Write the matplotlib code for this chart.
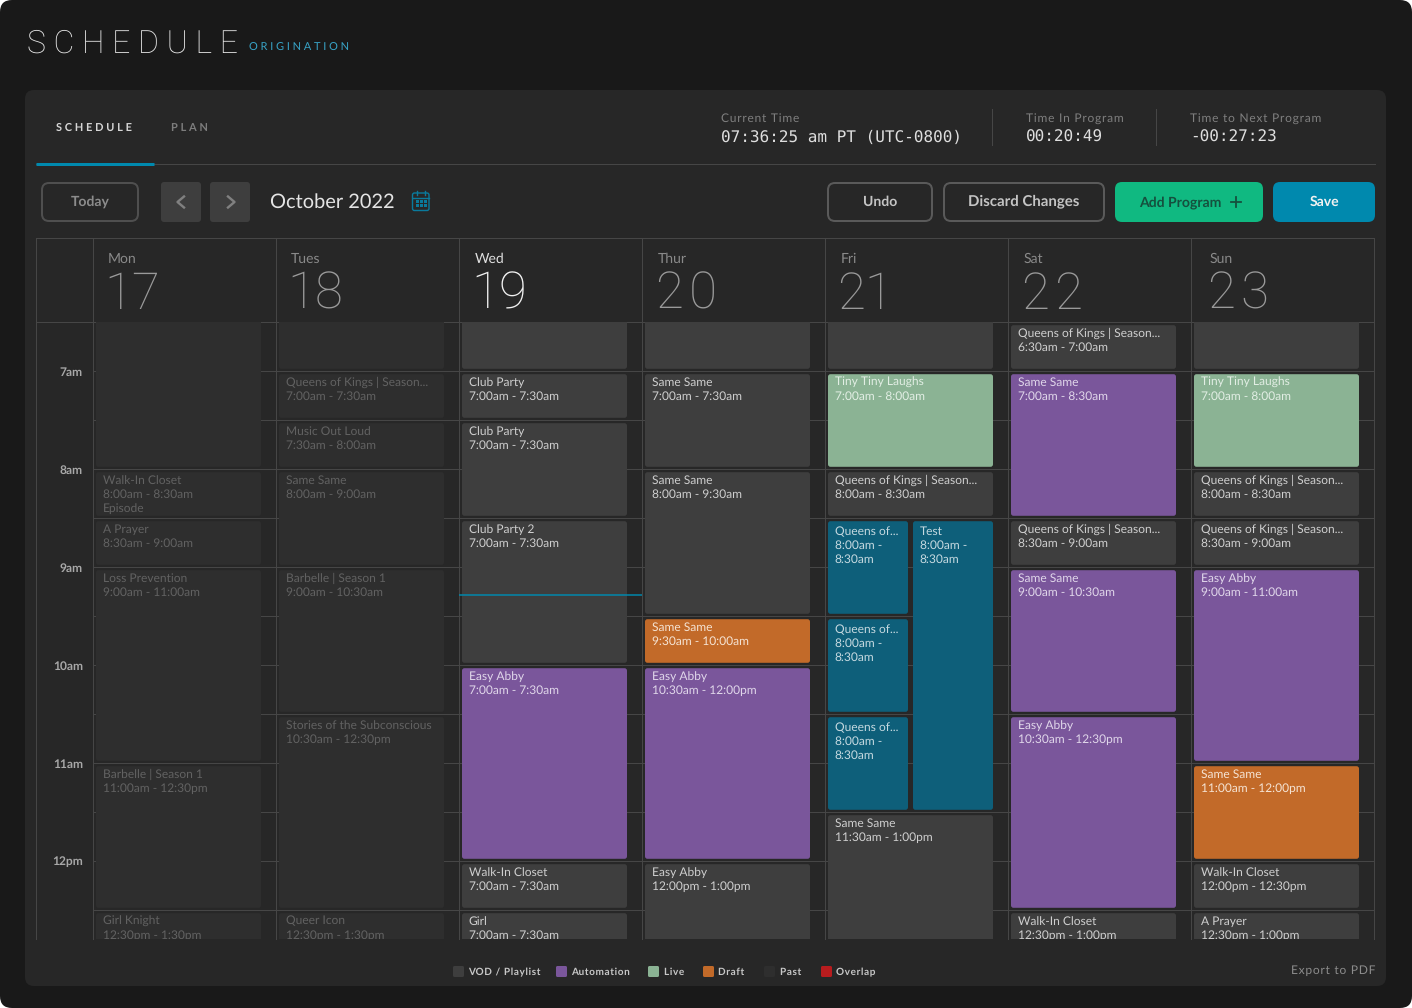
from matplotlib.patches import FancyBboxPatch
import matplotlib.pyplot as plt

plt.rcParams["font.family"] = ["Lato", "DejaVu Sans"]
plt.rcParams["text.hinting"] = "no_hinting"
plt.rcParams["text.hinting_factor"] = 1

# ---- data: (title, time label, start hour, end hour, kind)
mon_events = [
    ("", "", 6, 8, "past"),
    ("Walk-In Closet", "8:00am - 8:30am\nEpisode", 8, 8.5, "past"),
    ("A Prayer", "8:30am - 9:00am", 8.5, 9, "past"),
    ("Loss Prevention", "9:00am - 11:00am", 9, 11, "past"),
    ("Barbelle | Season 1", "11:00am - 12:30pm", 11, 12.5, "past"),
    ("Girl Knight", "12:30pm - 1:30pm", 12.5, 13.5, "past"),
]
tue_events = [
    ("", "", 6, 7, "past"),
    ("Queens of Kings | Season...", "7:00am - 7:30am", 7, 7.5, "past"),
    ("Music Out Loud", "7:30am - 8:00am", 7.5, 8, "past"),
    ("Same Same", "8:00am - 9:00am", 8, 9, "past"),
    ("Barbelle | Season 1", "9:00am - 10:30am", 9, 10.5, "past"),
    ("Stories of the Subconscious", "10:30am - 12:30pm", 10.5, 12.5, "past"),
    ("Queer Icon", "12:30pm - 1:30pm", 12.5, 13.5, "past"),
]
wed_events = [
    ("", "", 6, 7, "vod"),
    ("Club Party", "7:00am - 7:30am", 7, 7.5, "vod"),
    ("Club Party", "7:00am - 7:30am", 7.5, 8.5, "vod"),
    ("Club Party 2", "7:00am - 7:30am", 8.5, 10, "vod"),
    ("Easy Abby", "7:00am - 7:30am", 10, 12, "auto"),
    ("Walk-In Closet", "7:00am - 7:30am", 12, 12.5, "vod"),
    ("Girl", "7:00am - 7:30am", 12.5, 13.5, "vod"),
]
thu_events = [
    ("", "", 6, 7, "vod"),
    ("Same Same", "7:00am - 7:30am", 7, 8, "vod"),
    ("Same Same", "8:00am - 9:30am", 8, 9.5, "vod"),
    ("Same Same", "9:30am - 10:00am", 9.5, 10, "draft"),
    ("Easy Abby", "10:30am - 12:00pm", 10, 12, "auto"),
    ("Easy Abby", "12:00pm - 1:00pm", 12, 13.5, "vod"),
]
fri_events = [
    ("", "", 6, 7, "vod"),
    ("Tiny Tiny Laughs", "7:00am - 8:00am", 7, 8, "live"),
    ("Queens of Kings | Season...", "8:00am - 8:30am", 8, 8.5, "vod"),
    ("Same Same", "11:30am - 1:00pm", 11.5, 13.5, "vod"),
]
fri_left_events = [
    ("Queens of...", "8:00am -\n8:30am", 8.5, 9.5, "teal"),
    ("Queens of...", "8:00am -\n8:30am", 9.5, 10.5, "teal"),
    ("Queens of...", "8:00am -\n8:30am", 10.5, 11.5, "teal"),
]
fri_right_events = [
    ("Test", "8:00am -\n8:30am", 8.5, 11.5, "teal"),
]
sat_events = [
    ("Queens of Kings | Season...", "6:30am - 7:00am", 6.5, 7, "vod"),
    ("Same Same", "7:00am - 8:30am", 7, 8.5, "auto"),
    ("Queens of Kings | Season...", "8:30am - 9:00am", 8.5, 9, "vod"),
    ("Same Same", "9:00am - 10:30am", 9, 10.5, "auto"),
    ("Easy Abby", "10:30am - 12:30pm", 10.5, 12.5, "auto"),
    ("Walk-In Closet", "12:30pm - 1:00pm", 12.5, 13.5, "vod"),
]
sun_events = [
    ("", "", 6, 7, "vod"),
    ("Tiny Tiny Laughs", "7:00am - 8:00am", 7, 8, "live"),
    ("Queens of Kings | Season...", "8:00am - 8:30am", 8, 8.5, "vod"),
    ("Queens of Kings | Season...", "8:30am - 9:00am", 8.5, 9, "vod"),
    ("Easy Abby", "9:00am - 11:00am", 9, 11, "auto"),
    ("Same Same", "11:00am - 12:00pm", 11, 12, "draft"),
    ("Walk-In Closet", "12:00pm - 12:30pm", 12, 12.5, "vod"),
    ("A Prayer", "12:30pm - 1:00pm", 12.5, 13.5, "vod"),
]
day_names = ["Mon", "Tues", "Wed", "Thur", "Fri", "Sat", "Sun"]
day_dates = ["17", "18", "19", "20", "21", "22", "23"]
hour_ticks = [7, 8, 9, 10, 11, 12]
hour_labels = ["7am", "8am", "9am", "10am", "11am", "12pm"]
half_hour_ticks = [7.5, 8.5, 9.5, 10.5, 11.5, 12.5]
now_hour = 9.29
legend_names = ["VOD / Playlist", "Automation", "Live", "Draft", "Past", "Overlap"]
legend_kinds = ["vod", "auto", "live", "draft", "past", "overlap"]

# ---- styles
W, H = 1412, 1008
PAGE = "#191919"
PANEL = "#272727"
LINE = "#464646"
FILLS = {"vod": "#3e3e3e", "past": "#2e2e2e", "auto": "#7a569b", "live": "#8bb394",
         "draft": "#c26a29", "teal": "#0e5f7a", "overlap": "#b81c1e"}
TEXTS = {"vod": "#cfcfcf", "past": "#626262", "auto": "#e0d6ea", "live": "#e2eee4",
         "draft": "#f5e3d3", "teal": "#c5d9e0"}
BLUE = "#0089ae"
GREEN = "#10b981"
COL_W = 183
COL_X0 = 93
GRID_TOP, HEAD_BOT, GRID_BOT, GRID_L, GRID_R = 238, 322, 939, 36, 1374
HOUR_PX = 98
PX = 0.72  # points per pixel at dpi 100
HAIR = "\u200a"
THIN = "\u2009"


def rbox(ax, x0, y0, x1, y1, r, fc, ec="none", lw=0, z=2):
    ax.add_patch(FancyBboxPatch((x0, y0), x1 - x0, y1 - y0,
                                boxstyle=f"round,pad=0,rounding_size={r}",
                                fc=fc, ec=ec, lw=lw, zorder=z))


def tracked(s, sep=HAIR):
    return sep.join(s)


fig = plt.figure(figsize=(W / 100, H / 100), dpi=100, facecolor="white")

# ---- chrome layer, in pixels
bg = fig.add_axes([0, 0, 1, 1])
bg.set_xlim(0, W)
bg.set_ylim(H, 0)
bg.axis("off")

rbox(bg, 0, 0, W, H, 12, PAGE, z=0)
rbox(bg, 25, 90, 1386, 986, 9, PANEL, z=1)

bg.text(27, 44, "S C H E D U L E", color="#e8e8e8", fontsize=32.3 * PX, family="Roboto",
        fontweight="light", va="center")
bg.text(249, 47.5, tracked("ORIGINATION", THIN + HAIR + HAIR), color="#38a3c6", fontsize=11.3 * PX, va="center")

TAB_SEP = THIN + HAIR + HAIR
bg.text(56, 127.5, tracked("SCHEDULE", TAB_SEP), color="#d6d6d6", fontsize=10.8 * PX, fontweight="bold", va="center")
bg.text(171, 127.5, tracked("PLAN", TAB_SEP), color="#7d7d7d", fontsize=10.8 * PX, fontweight="bold", va="center")
bg.plot([36, 1375], [164, 164], color=LINE, lw=1 * PX, zorder=2)
bg.plot([36, 153.5], [163.5, 163.5], color=BLUE, lw=3 * PX, solid_capstyle="butt", zorder=3)

bg.text(721, 118.5, tracked("Current Time"), color="#7f7f7f", fontsize=12 * PX, va="center")
bg.text(721, 137, "07:36:25 am PT (UTC-0800)", color="#dedede", fontsize=16 * PX,
        family="DejaVu Sans Mono", va="center")
bg.text(1026, 118.5, tracked("Time In Program"), color="#7f7f7f", fontsize=12 * PX, va="center")
bg.text(1026, 137, "00:20:49", color="#dedede", fontsize=16 * PX, family="DejaVu Sans Mono", va="center")
bg.text(1190, 118.5, tracked("Time to Next Program"), color="#7f7f7f", fontsize=12 * PX, va="center")
bg.text(1190, 137, "-00:27:23", color="#dedede", fontsize=16 * PX, family="DejaVu Sans Mono", va="center")
for sep_x in [992, 1156]:
    bg.plot([sep_x, sep_x], [109, 145], color=LINE, lw=1 * PX)

# toolbar buttons
rbox(bg, 42, 183, 138, 221, 7, "none", ec="#4f4f4f", lw=2 * PX)
bg.text(90, 202, "Today", color="#8c8c8c", fontsize=13.5 * PX, fontweight="bold", ha="center", va="center")
rbox(bg, 161, 182, 201, 222, 3, "#3e3e3e")
rbox(bg, 210, 182, 250, 222, 3, "#3e3e3e")
bg.plot([184, 177.5, 184], [196.5, 202, 207.5], color="#808080", lw=2.4 * PX)
bg.plot([228, 234.5, 228], [196.5, 202, 207.5], color="#808080", lw=2.4 * PX)
bg.text(270, 202, "October 2022", color="#e4e4e4", fontsize=20 * PX, va="center")

# calendar icon
ICON = "#0a7a9c"
rbox(bg, 412.5, 193, 429, 210.5, 2, "none", ec=ICON, lw=1.4 * PX)
bg.plot([412.5, 429], [197.5, 197.5], color=ICON, lw=1.4 * PX)
for peg_x in [417, 425]:
    bg.plot([peg_x, peg_x], [191, 195], color=ICON, lw=1.4 * PX)
for cx in [415.5, 419.5, 423.5]:
    for cy in [200, 204]:
        bg.fill_between([cx, cx + 3.2], cy, cy + 3.2, color=ICON, lw=0)

rbox(bg, 828, 183, 932, 221, 7, "none", ec="#5a5a5a", lw=2 * PX)
bg.text(880, 201.5, "Undo", color="#c4c4c4", fontsize=14 * PX, fontweight="bold", ha="center", va="center")
rbox(bg, 944, 183, 1104, 221, 7, "none", ec="#5a5a5a", lw=2 * PX)
bg.text(1024, 201.5, "Discard Changes", color="#c4c4c4", fontsize=14.6 * PX, fontweight="bold", ha="center", va="center")
rbox(bg, 1115, 182, 1263, 222, 7, GREEN)
bg.text(1180, 202.5, "Add Program", color="#15503e", fontsize=14 * PX, fontweight="bold", ha="center", va="center")
bg.plot([1231, 1241], [202, 202], color="#15503e", lw=1.8 * PX)
bg.plot([1236, 1236], [197, 207], color="#15503e", lw=1.8 * PX)
rbox(bg, 1273, 182, 1375, 222, 7, BLUE)
bg.text(1324, 201.5, "Save", color="#f2f2f2", fontsize=14 * PX, fontweight="bold", ha="center", va="center")

# calendar frame and day headers
bg.plot([GRID_L, GRID_R], [GRID_TOP, GRID_TOP], color=LINE, lw=1 * PX)
bg.plot([GRID_L, GRID_R], [HEAD_BOT, HEAD_BOT], color=LINE, lw=1 * PX)
bg.plot([GRID_L, GRID_L], [GRID_TOP, GRID_BOT], color=LINE, lw=1 * PX)
head_x = [108, 291, 475, 658, 841, 1024, 1210]
for i in range(8):
    col_x = COL_X0 + i * COL_W
    bg.plot([col_x, col_x], [GRID_TOP, GRID_BOT], color=LINE, lw=1 * PX)
for i, (name, date) in enumerate(zip(day_names, day_dates)):
    is_today = name == "Wed"
    bg.text(head_x[i], 259, name, color="#e0e0e0" if is_today else "#8a8a8a", fontsize=13.5 * PX, va="center")
    # the numerals without a 1 run a little wider in the reference
    date_text = date if "1" in date else tracked(date)
    date_x = head_x[i] - (4 if "1" in date else 2)
    bg.text(date_x, 295, date_text, color="#f0f0f0" if is_today else "#9a9a9a", fontsize=51 * PX,
            family="Roboto", fontweight="light", va="center")

# legend and footer
legend_x = [453, 556, 648, 703, 764, 821]
for lx, name, kind in zip(legend_x, legend_names, legend_kinds):
    rbox(bg, lx, 966, lx + 11, 977, 1.5, FILLS[kind])
    bg.text(lx + 15.5, 972, tracked(name), color="#c8c8c8", fontsize=9.7 * PX, fontweight="bold", va="center")
bg.text(1375, 971, tracked("Export to PDF"), color="#8c8c8c", fontsize=11.6 * PX, ha="right", va="center")

# ---- calendar grid, x in days and y in hours
cal = fig.add_axes([COL_X0 / W, 1 - GRID_BOT / H, 7 * COL_W / W, (GRID_BOT - HEAD_BOT) / H])
cal.patch.set_alpha(0)
cal.set_xlim(0, 7)
top_hour = 7 - (371 - HEAD_BOT) / HOUR_PX
cal.set_ylim(top_hour + (GRID_BOT - HEAD_BOT) / HOUR_PX, top_hour)
for spine in cal.spines.values():
    spine.set_visible(False)
cal.set_xticks([])
cal.set_yticks(hour_ticks, hour_labels)
cal.set_yticks(half_hour_ticks, minor=True)
cal.tick_params(axis="y", which="both", length=0, pad=10 * PX, labelsize=11.8 * PX, labelcolor="#a8a8a8")
for lab in cal.get_yticklabels():
    lab.set_fontweight("bold")
cal.grid(True, axis="y", which="both", color=LINE, lw=1 * PX)
cal.set_axisbelow(True)

X_UNIT = 1 / COL_W
Y_UNIT = 1 / HOUR_PX


def draw_event(ev, day, lane_l=3, lane_r=168):
    title, when, start, end, kind = ev
    x0 = day + lane_l * X_UNIT
    x1 = day + lane_r * X_UNIT
    y0 = start + 3.2 * Y_UNIT
    y1 = end - 2.2 * Y_UNIT
    cal.add_patch(FancyBboxPatch((x0, y0), x1 - x0, y1 - y0,
                                 boxstyle=f"round,pad=0,rounding_size={2.5 * X_UNIT}",
                                 mutation_aspect=COL_W / HOUR_PX,
                                 fc=FILLS[kind], ec="none", zorder=3))
    if not title:
        return
    first_line = 10.5 if kind == "teal" else 8
    for k, line in enumerate([title] + when.split("\n")):
        cal.annotate(line, xy=(x0, y0), xytext=(6.7 * PX, -(first_line + 14 * k) * PX),
                     textcoords="offset points", color=TEXTS[kind], fontsize=12.2 * PX,
                     va="center", annotation_clip=False, clip_on=True, zorder=4)


day_events = [mon_events, tue_events, wed_events, thu_events, fri_events, sat_events, sun_events]
for day, events in enumerate(day_events):
    for ev in events:
        draw_event(ev, day)
for ev in fri_left_events:
    draw_event(ev, 4, 3, 83)
for ev in fri_right_events:
    draw_event(ev, 4, 88, 168)

cal.plot([2, 3], [now_hour, now_hour], color=BLUE, lw=1.5 * PX, zorder=5, solid_capstyle="butt")

fig.savefig("out.png", dpi=100, facecolor=fig.get_facecolor())
